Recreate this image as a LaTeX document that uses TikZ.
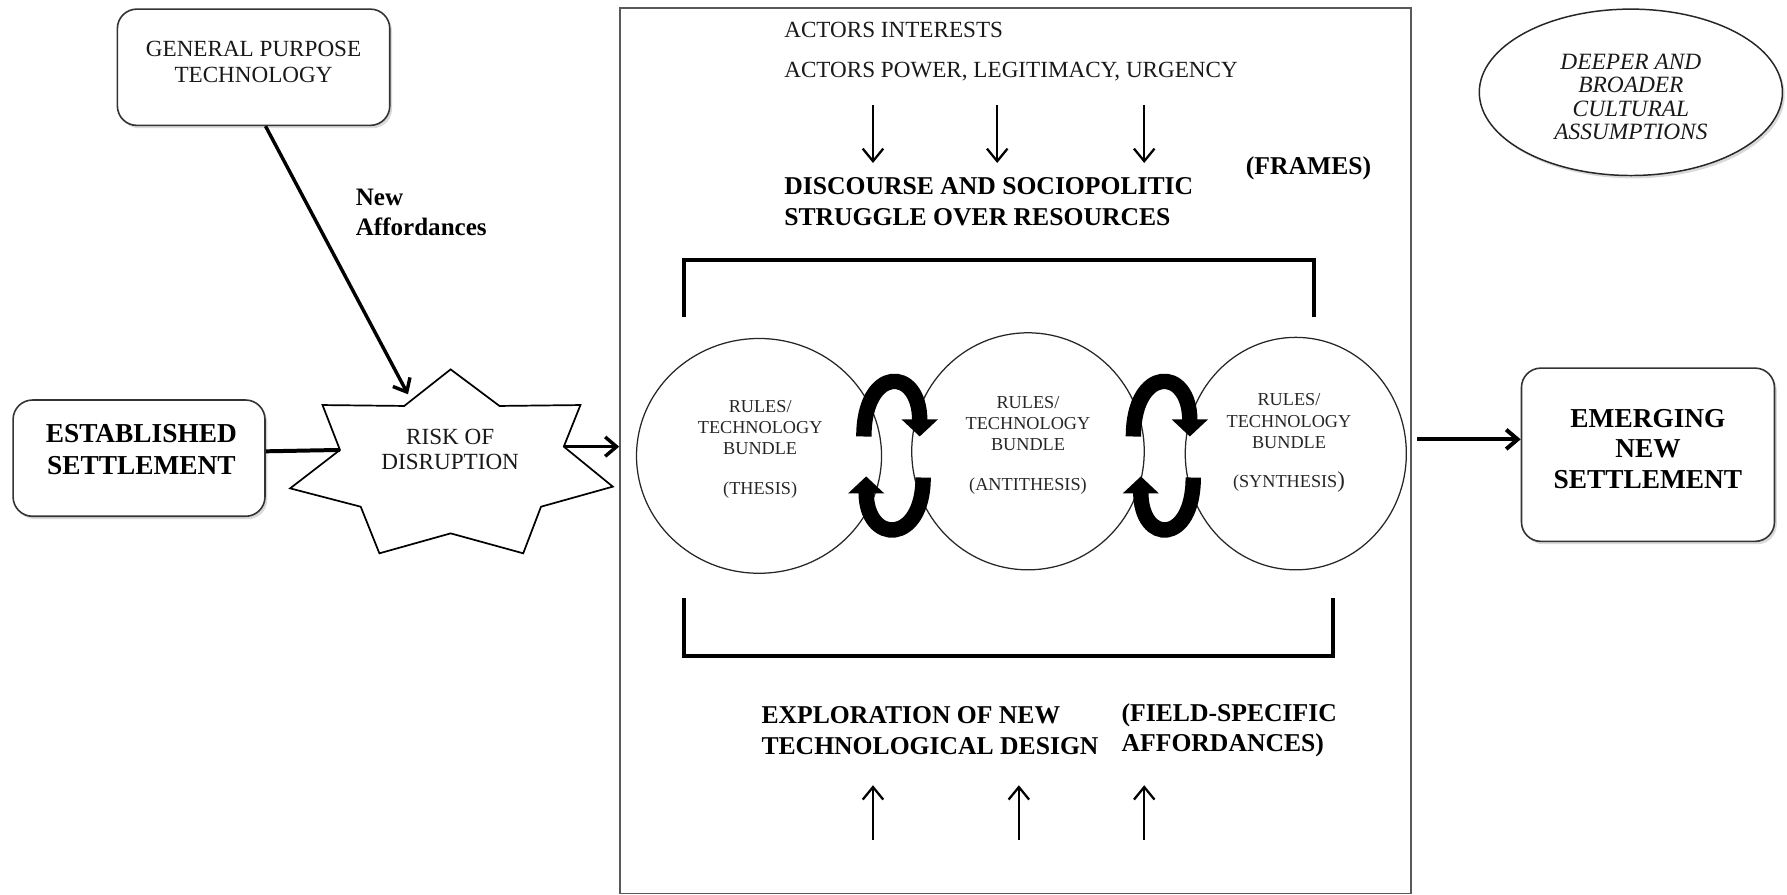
\documentclass[tikz,border=0pt]{standalone}
\usepackage{fontspec}
\setmainfont{Liberation Serif}
\usetikzlibrary{arrows.meta,shapes.geometric,shadows,calc}
\begin{document}
\begin{tikzpicture}[x=1pt,y=-1pt,
  softshadow/.style={drop shadow={opacity=0.3,shadow xshift=2pt,shadow yshift=-2.5pt}},
  rbox/.style={draw=black!80, line width=1.4pt, rounded corners=17pt, fill=white, softshadow, inner sep=0pt},
  reg/.style={font=\fontsize{20.3}{23.4}\selectfont, align=center, inner sep=0pt, text=black!90},
  boldt/.style={font=\fontsize{22.5}{26.5}\selectfont\bfseries, align=left, inner sep=0pt, anchor=west},
  bigbold/.style={font=\fontsize{24}{28}\selectfont\bfseries, align=center, inner sep=0pt},
  ctext/.style={font=\fontsize{16}{18.5}\selectfont, align=center, inner sep=0pt, text=black!85},
  bundle/.style={ellipse, draw=black!85, line width=1.1pt, inner sep=0pt},
  conn/.style={line width=3pt, -{Straight Barb[length=10pt,width=17pt]}},
  thinarr/.style={line width=2pt, -{Straight Barb[length=11pt,width=18pt]}},
  cyc/.style={line width=13.5pt, -{Triangle[width=31pt,length=15pt]}},
  bracket/.style={line width=3.5pt},
]
\useasboundingbox (0,0) rectangle (1568,785);

% main field box
\node[draw=black!65, line width=1.4pt, minimum width=694pt, minimum height=777pt, inner sep=0pt] (field) at (891,395.5) {};

% left side boxes
\node[rbox, minimum width=239pt, minimum height=102pt] (gpt) at (222.5,59) {};
\node[reg] (gpttext) at (222.5,54.5) {GENERAL PURPOSE\\TECHNOLOGY};

\node[rbox, minimum width=221pt, minimum height=102pt] (es) at (122,402) {};
\node[bigbold, font=\fontsize{24}{28.7}\selectfont\bfseries] (estext) at (124,394.5) {ESTABLISHED\\SETTLEMENT};

% star (risk of disruption)
\coordinate (s0) at (395.4,324.1);
\coordinate (i1) at (438.3,356.2);
\coordinate (s1) at (509.3,355.4);
\coordinate (i2) at (494.7,391.9);
\coordinate (s2) at (537.7,427.0);
\coordinate (i3) at (474.7,444.6);
\coordinate (s3) at (459.1,485.5);
\coordinate (i4) at (395.4,468.0);
\coordinate (s4) at (332.9,485.5);
\coordinate (i5) at (316.5,444.6);
\coordinate (s5) at (254.6,428.5);
\coordinate (i6) at (298.3,394.8);
\coordinate (s6) at (283.0,355.4);
\coordinate (i7) at (354.7,356.2);
\draw[line width=1.5pt, fill=white, line join=miter] (s0) -- (i1) -- (s1) -- (i2) -- (s2) -- (i3) -- (s3) -- (i4) -- (s4) -- (i5) -- (s5) -- (i6) -- (s6) -- (i7) -- cycle;
\node[reg, font=\fontsize{20.3}{22}\selectfont] (risk) at (395,394) {RISK OF\\DISRUPTION};

% connectors on the left
\coordinate (gptin) at (358,346);
\draw[conn] ([xshift=10.5pt]gpt.south) -- (gptin);
\node[font=\fontsize{22}{26.3}\selectfont\bfseries, align=left, anchor=west, inner sep=0pt] (na) at (312,186) {New\\Affordances};
\draw[line width=3.5pt] ([yshift=6pt]es.east) -- (i6);
\draw[conn] (i2) -- (field.west |- i2);

% top texts in the field
\node[reg, anchor=west] (ai) at (688,26) {ACTORS INTERESTS};
\node[reg, anchor=west] (ap) at (688,63) {ACTORS POWER, LEGITIMACY, URGENCY};
\foreach \x/\n in {766/a,875/b,1004/c}{
  \coordinate (dn\n s) at (\x,92);
  \coordinate (dn\n e) at (\x,143);
  \draw[thinarr] (dn\n s) -- (dn\n e);
}
\node[boldt] (frames) at (1093,148) {(FRAMES)};
\node[boldt] (disc) at (688,177) {DISCOURSE AND SOCIOPOLITIC\\STRUGGLE OVER RESOURCES};

% brackets
\draw[bracket] (600,278) -- (600,228) -- (1153,228) -- (1153,278);
\draw[bracket] (600,525) -- (600,576) -- (1170,576) -- (1170,525);

% bundles
\node[bundle, minimum width=215pt, minimum height=206pt] (c1) at (666,400) {};
\node[bundle, minimum width=204pt, minimum height=208pt] (c2) at (902,396) {};
\node[bundle, minimum width=194pt, minimum height=204pt] (c3) at (1137,398) {};
\node[ctext] (t1) at (667,394) {RULES/\\TECHNOLOGY\\BUNDLE\\[16.5pt](THESIS)};
\node[ctext] (t2) at (902,390.5) {RULES/\\TECHNOLOGY\\BUNDLE\\[16.5pt](ANTITHESIS)};
\node[ctext] (t3) at (1131,389) {RULES/\\TECHNOLOGY\\BUNDLE\\[16.5pt](SYNTHESIS{\fontsize{20}{20}\selectfont)}};

% cycle arrows
\draw[cyc] (758,383) .. controls (758,321) and (807,321) .. (807,383);
\draw[cyc] (810,419) .. controls (810,478) and (760,478) .. (760,418);
\draw[cyc] (994.5,383) .. controls (994.5,321) and (1044,321) .. (1044,383);
\draw[cyc] (1047,419) .. controls (1047,478) and (1001,478) .. (1001,418);

% bottom texts
\node[boldt] (expl) at (668,641) {EXPLORATION OF NEW\\TECHNOLOGICAL DESIGN};
\node[boldt] (fsa) at (984,641) {(FIELD-SPECIFIC\\AFFORDANCES)};
\foreach \x/\n in {766/a,894/b,1004/c}{
  \coordinate (up\n s) at (\x,737);
  \coordinate (up\n e) at (\x,689);
  \draw[thinarr] (up\n s) -- (up\n e);
}

% right side
\node[ellipse, draw=black!85, line width=1.3pt, fill=white, softshadow, minimum width=266pt, minimum height=146pt, inner sep=0pt] (deep) at (1431,81) {};
\node[font=\fontsize{20.5}{20.5}\selectfont\itshape, align=center, inner sep=0pt, text=black!90] (deeptext) at (1431,85) {DEEPER AND\\BROADER\\CULTURAL\\ASSUMPTIONS};

\node[rbox, minimum width=222pt, minimum height=152pt] (em) at (1446,399) {};
\node[bigbold, font=\fontsize{24}{26.5}\selectfont\bfseries] (emtext) at (1446,394) {EMERGING\\NEW\\SETTLEMENT};
\coordinate (rarr) at ([xshift=5pt,yshift=10pt]field.east);
\draw[conn, line width=3.5pt] (rarr) -- (em.west |- rarr);
\end{tikzpicture}
\end{document}
